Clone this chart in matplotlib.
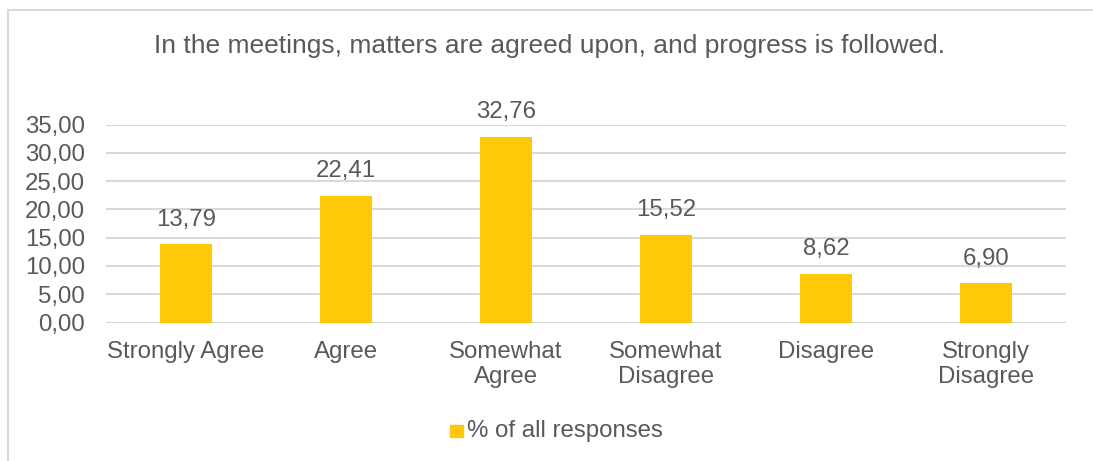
import matplotlib
matplotlib.use("Agg")
import matplotlib.pyplot as plt
from matplotlib.patches import Rectangle
from matplotlib.lines import Line2D

categories = ["Strongly Agree", "Agree", "Somewhat\nAgree", "Somewhat\nDisagree",
              "Disagree", "Strongly\nDisagree"]
values = [13.79, 22.41, 32.76, 15.52, 8.62, 6.90]
yticks = [0, 5, 10, 15, 20, 25, 30, 35]
series_name = "% of all responses"
title = "In the meetings, matters are agreed upon, and progress is followed."

BAR = "#FFC90A"
TEXT = "#595959"
GRID = "#D9D9D9"
FS = 17.3

plt.rcParams["font.family"] = ["Liberation Sans", "DejaVu Sans"]

W, H = 1093, 461
fig = plt.figure(figsize=(W / 100, H / 100), dpi=100)
fig.patch.set_facecolor("white")

# chart frame (left and top edges visible)
fig.add_artist(Line2D([8 / W, 8 / W], [0, 1 - 10 / H], transform=fig.transFigure,
                      color=GRID, lw=1.5))
fig.add_artist(Line2D([8 / W, 1], [1 - 10 / H, 1 - 10 / H], transform=fig.transFigure,
                      color=GRID, lw=1.5))

ax = fig.add_axes([106 / W, 1 - 322.5 / H, 960 / W, 198 / H])
x = list(range(len(categories)))
ax.bar(x, values, width=0.32, color=BAR, zorder=3)
ax.set_xlim(-0.5, len(categories) - 0.5)
ax.set_ylim(0, 35)
ax.set_yticks(yticks)
ax.set_yticklabels([f"{v:.2f}".replace(".", ",") for v in yticks])
ax.set_xticks(x)
ax.set_xticklabels(categories, linespacing=1.2)
ax.tick_params(axis="both", length=0, colors=TEXT, labelsize=FS)
ax.tick_params(axis="y", pad=15)
ax.tick_params(axis="x", pad=13)
ax.yaxis.grid(True, color=GRID, lw=1.5, zorder=0)
for s in ax.spines.values():
    s.set_visible(False)

for xi, v in zip(x, values):
    ax.annotate(f"{v:.2f}".replace(".", ","), (xi, v), xytext=(0, 10),
                textcoords="offset points", ha="center", va="bottom",
                fontsize=FS, color=TEXT)

fig.text(550 / W, 1 - 46 / H, title, ha="center", va="center", fontsize=19, color=TEXT)

# legend
fig.add_artist(Rectangle((450 / W, 1 - 437 / H), 12.5 / W, 12.5 / H,
                         transform=fig.transFigure, color=BAR))
fig.text(467 / W, 1 - 431 / H, series_name, ha="left", va="center",
         fontsize=FS, color=TEXT)

fig.savefig("out.png", dpi=100, facecolor="white")
